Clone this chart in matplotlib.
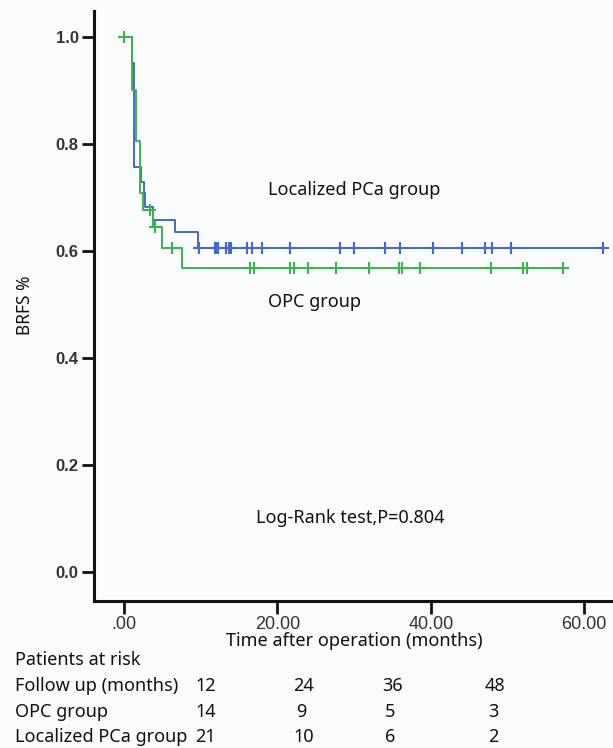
import numpy as np
import matplotlib
matplotlib.use("Agg")
import matplotlib.pyplot as plt

# ---- data ----
loc_times = [0, 1.1, 1.35, 2.25, 2.6, 2.8, 3.8, 6.7, 9.7]
loc_surv = [1.0, 0.952, 0.758, 0.730, 0.708, 0.683, 0.658, 0.636, 0.606]
loc_end = 62.5
loc_censor = [9.8, 11.9, 12.1, 12.3, 13.3, 13.7, 14.0, 16.0, 16.7, 18.0, 21.6,
              28.1, 30.0, 34.0, 36.0, 40.3, 44.1, 47.1, 48.0, 50.5, 62.5]

opc_times = [0, 1.08, 1.52, 2.09, 2.5, 3.8, 5.0, 7.6]
opc_surv = [1.0, 0.901, 0.806, 0.708, 0.677, 0.645, 0.606, 0.568]
opc_end = 57.2
opc_censor = [0, 3.4, 4.0, 6.2, 16.4, 16.9, 21.6, 22.1, 24.0, 27.6, 32.0,
              35.8, 36.2, 38.6, 47.9, 52.0, 52.5, 57.2]

xticks = [0, 20, 40, 60]
xticklabels = [".00", "20.00", "40.00", "60.00"]
yticks = [0.0, 0.2, 0.4, 0.6, 0.8, 1.0]

risk_rows = ["Follow up (months)", "OPC group", "Localized PCa group"]
risk_follow = ["12", "24", "36", "48"]
risk_opc = ["14", "9", "5", "3"]
risk_loc = ["21", "10", "6", "2"]

blue = "#4668cc"
green = "#3bb44f"
bg = "#fafbfd"
txt_font = ["Noto Sans", "DejaVu Sans"]
W, H = 613, 748


def surv_at(times, surv, t):
    idx = np.searchsorted(times, t, side="right") - 1
    return np.array(surv)[idx]


fig = plt.figure(figsize=(6.13, 7.48), dpi=100, facecolor=bg)
ax = fig.add_axes([94 / W, 1 - 601 / H, 1 - 94 / W, (601 - 11) / H])
ax.set_facecolor(bg)

for times, surv, end, cens, col in [
    (loc_times, loc_surv, loc_end, loc_censor, blue),
    (opc_times, opc_surv, opc_end, opc_censor, green),
]:
    xs = list(times) + [end]
    ys = list(surv) + [surv[-1]]
    ax.step(xs, ys, where="post", color=col, lw=1.4, zorder=3)
    cy = [surv_at(times, surv, c) for c in cens]
    ax.plot(cens, cy, ls="none", marker="+", ms=8, mew=1.5, color=col, zorder=4)

ax.set_xlim(-3.91, 63.75)
ax.set_ylim(-0.054, 1.049)
for s in ["top", "right"]:
    ax.spines[s].set_visible(False)
for s in ["left", "bottom"]:
    ax.spines[s].set_linewidth(2.2)
    ax.spines[s].set_color("#111111")

ax.set_xticks(xticks)
ax.set_xticklabels(xticklabels, fontfamily="Liberation Sans", fontsize=13, color="#333333")
ax.set_yticks(yticks)
ax.set_yticklabels([f"{v:.1f}" for v in yticks], fontfamily="Liberation Sans",
                   fontsize=12, color="#333333", fontweight="bold")
ax.tick_params(axis="x", direction="out", length=9, width=2, color="#111111", pad=2)
ax.tick_params(axis="y", direction="out", length=9, width=2, color="#111111", pad=2)

fig.text(354 / W, 1 - 641 / H, "Time after operation (months)", fontfamily=txt_font,
         fontsize=13, color="#111111", ha="center", va="center")
fig.text(25 / W, 1 - 305 / H, "BRFS %", fontfamily=txt_font, fontsize=12.5,
         color="#111111", ha="center", va="center", rotation=90)

ax.text(18.8, 0.714, "Localized PCa group", fontfamily=txt_font, fontsize=13,
        color="#111111", va="center", ha="left")
ax.text(18.8, 0.505, "OPC group", fontfamily=txt_font, fontsize=13,
        color="#111111", va="center", ha="left")
ax.text(17.2, 0.101, "Log-Rank test,P=0.804", fontfamily=txt_font, fontsize=13,
        color="#111111", va="center", ha="left")

# risk table
def ftxt(x, y, s, ha="left"):
    fig.text(x / W, 1 - y / H, s, fontfamily=txt_font, fontsize=13,
             color="#111111", ha=ha, va="center")

ftxt(15, 660, "Patients at risk")
row_y = [686, 712, 737]
cols_x = [195, 293, 382, 485]
for label, vals, y in zip(risk_rows, [risk_follow, risk_opc, risk_loc], row_y):
    ftxt(15, y, label)
    for v, x in zip(vals, cols_x):
        ftxt(x + (3 if len(v) == 1 else 0), y, v)

fig.savefig("out.png", dpi=100, facecolor=bg)
